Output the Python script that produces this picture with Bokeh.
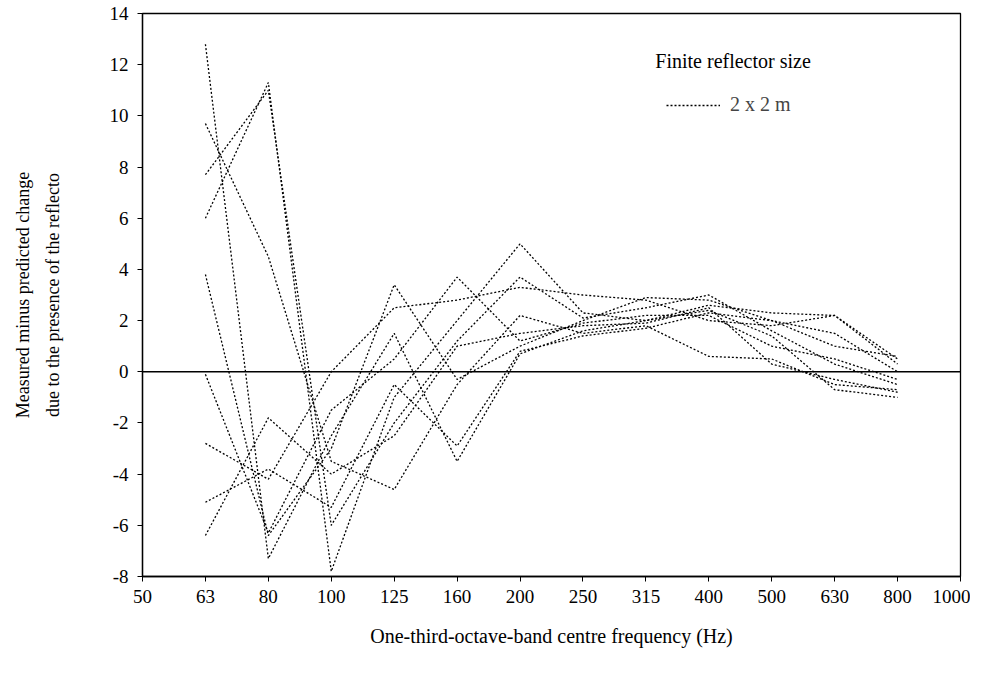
from bokeh.plotting import figure
from bokeh.models import Span, Legend, LegendItem, Label, FixedTicker, Range1d
from bokeh.embed import file_html
from bokeh.resources import INLINE

# tick labels of the x axis (one-third-octave band centre frequencies, Hz)
tick_labels = ["50", "63", "80", "100", "125", "160", "200", "250", "315",
               "400", "500", "630", "800", "1000"]
# bands at which values were measured
bands = ["63", "80", "100", "125", "160", "200", "250", "315", "400", "500", "630", "800"]

# measured minus predicted change (dB), one list per measurement position
s1 = [12.8, -7.3, -2.5, 1.5, -3.5, 0.7, 1.6, 2.0, 2.6, 2.3, 2.2, 0.3]
s2 = [9.7, 4.5, -3.5, -4.6, -0.5, 2.2, 1.5, 1.8, 0.6, 0.5, -0.5, -0.7]
s3 = [7.7, 11.0, -6.0, -2.0, 1.2, 3.7, 2.1, 2.5, 3.0, 1.6, 0.3, -0.5]
s4 = [6.0, 11.3, -7.8, -1.0, 2.0, 5.0, 2.3, 2.0, 2.4, 1.4, -0.7, -1.0]
s5 = [3.8, -6.4, -3.0, 3.4, -0.3, 1.0, 2.0, 2.9, 2.8, 2.0, 1.0, 0.6]
s6 = [-0.1, -6.3, -1.5, 0.5, 3.7, 1.2, 1.9, 2.2, 2.2, 1.0, 0.5, -0.3]
s7 = [-2.8, -4.2, 0.0, 2.5, 2.8, 3.3, 3.0, 2.8, 2.0, 1.8, 2.2, 0.5]
s8 = [-5.1, -3.8, -5.3, -0.5, -2.9, 0.8, 1.4, 1.7, 2.3, 2.0, 1.5, 0.0]
s9 = [-6.4, -1.8, -4.0, -2.5, 1.0, 1.5, 1.8, 1.9, 2.5, 0.3, -0.3, -0.8]
series = [s1, s2, s3, s4, s5, s6, s7, s8, s9]

y_ticks = list(range(-8, 15, 2))

FONT = "Liberation Serif"

p = figure(width=970, height=663, output_backend="svg", toolbar_location=None,
           x_range=Range1d(0, len(tick_labels) - 1), y_range=Range1d(-8, 14),
           min_border_left=142, min_border_right=10, min_border_top=13, min_border_bottom=87)

p.grid.visible = False
p.outline_line_color = "black"
p.outline_line_width = 1.3
p.background_fill_color = "white"
p.border_fill_color = "white"

xpos = [tick_labels.index(b) for b in bands]
renderers = []
for s in series:
    r = p.line(xpos, s, line_color="black", line_width=1.3, line_dash="2 2")
    renderers.append(r)

zero = Span(location=0, dimension="width", line_color="black", line_width=1.5)
p.add_layout(zero)

p.xaxis.ticker = FixedTicker(ticks=list(range(len(tick_labels))))
p.xaxis.major_label_overrides = {i: t for i, t in enumerate(tick_labels)}
p.yaxis.ticker = FixedTicker(ticks=y_ticks)
p.yaxis.major_label_overrides = {v: str(v) for v in y_ticks}

for ax in (p.xaxis[0], p.yaxis[0]):
    ax.axis_line_color = "black"
    ax.axis_line_width = 1.3
    ax.major_tick_line_color = "black"
    ax.major_tick_in = 0
    ax.major_tick_out = 5
    ax.minor_tick_line_color = None
    ax.major_label_text_font = FONT
    ax.major_label_text_font_size = "19px"
    ax.major_label_text_color = "black"
    ax.axis_label_text_font = FONT
    ax.axis_label_text_font_style = "normal"
    ax.axis_label_text_color = "black"

p.xaxis.major_label_standoff = 8
p.xaxis.axis_label = "One-third-octave-band centre frequency (Hz)"
p.xaxis.axis_label_text_font_size = "20px"
p.xaxis.axis_label_standoff = 19
p.yaxis.major_label_standoff = 9
p.yaxis.axis_label = "Measured minus predicted change\ndue to the presence of the reflecto"
p.yaxis.axis_label_text_font_size = "18px"
p.yaxis.axis_label_text_line_height = 1.5
p.yaxis.axis_label_standoff = 44

title = Label(x=8.15, y=12.15, text="Finite reflector size", text_font=FONT,
              text_font_size="20px", text_color="black", text_baseline="middle")
p.add_layout(title)

legend = Legend(items=[LegendItem(label="2 x 2 m", renderers=[renderers[0]])],
                location=(524, 460), padding=0, margin=0, border_line_color=None,
                background_fill_alpha=0, glyph_width=54, label_standoff=10,
                label_text_font=FONT, label_text_font_size="20px")
p.add_layout(legend)

open("out.html", "w").write(file_html(p, INLINE))
